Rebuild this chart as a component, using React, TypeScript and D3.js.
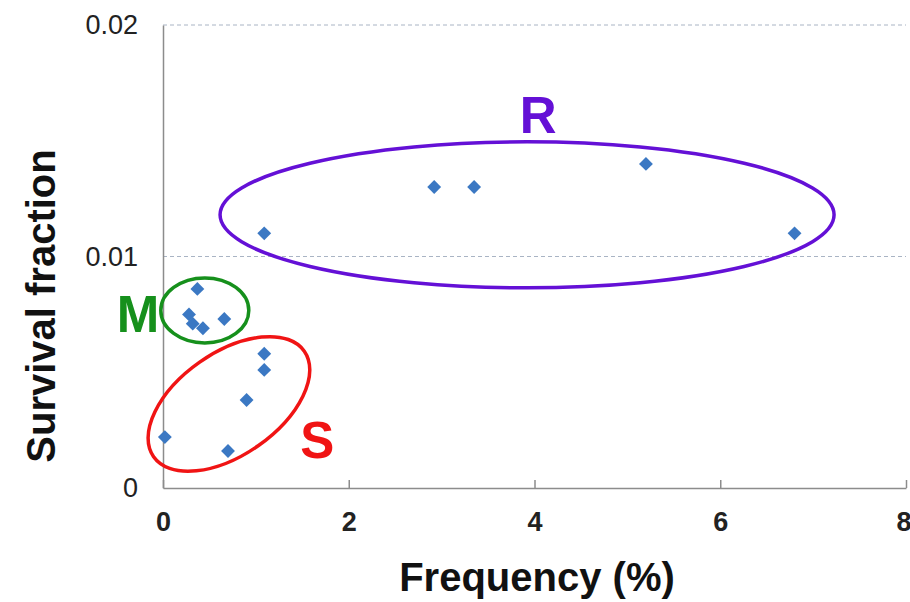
import * as d3 from 'd3';
import { useEffect, useRef } from 'react';

// Frequency (%) vs survival fraction, one point per isolate
const freqValues = [0.02, 0.7, 0.9, 1.09, 1.09, 0.37, 0.28, 0.32, 0.43, 0.66, 1.09, 2.92, 3.35, 5.2, 6.8];
const survivalValues = [0.0022, 0.0016, 0.0038, 0.0051, 0.0058, 0.0086, 0.0075, 0.0071, 0.0069, 0.0073, 0.011, 0.013, 0.013, 0.014, 0.011];

const xTicks = [0, 2, 4, 6, 8];
const yTicks = [0, 0.01, 0.02];
const yTickLabels = ['0', '0.01', '0.02'];

// group annotations: label, colour, label position and ellipse (centre in data units)
const groupNames = ['R', 'M', 'S'];
const groupColors = ['#6410d6', '#16901c', '#f01414'];
const groupLabelX = [4.04, -0.27, 1.66];
const groupLabelY = [0.01533, 0.00674, 0.0013];
const ellipseCx = [3.92, 0.45, 0.71];
const ellipseCy = [0.0118, 0.00767, 0.00363];
const ellipseRx = [307, 44, 92];
const ellipseRy = [73, 32.5, 51];
const ellipseAngle = [0, 0, -35];

const App: React.FC = () => {
  const ref = useRef<null | SVGSVGElement>(null);

  useEffect(() => {
    const width = 910;
    const height = 602;
    const margin = { top: 25, right: 4, bottom: 114, left: 163 };

    const svg = d3.select(ref.current);
    svg.selectAll('*').remove();
    svg.attr('width', width).attr('height', height);

    const x = d3.scaleLinear().domain([0, 8]).range([margin.left, width - margin.right]);
    const y = d3.scaleLinear().domain([0, 0.02]).range([height - margin.bottom, margin.top]);

    // dashed gridlines
    svg
      .append('g')
      .selectAll('line')
      .data(yTicks.slice(1))
      .join('line')
      .attr('x1', x(0))
      .attr('x2', x(8))
      .attr('y1', (d) => y(d))
      .attr('y2', (d) => y(d))
      .attr('stroke', '#a9b4c4')
      .attr('stroke-width', 1)
      .attr('stroke-dasharray', '4,3');

    // y axis
    const yAxis = svg
      .append('g')
      .attr('transform', `translate(${x(0)},0)`)
      .call(
        d3
          .axisLeft(y)
          .tickValues(yTicks)
          .tickSize(0)
          .tickPadding(25)
          .tickFormat((d, i) => yTickLabels[i])
      );
    yAxis.select('.domain').attr('stroke', '#8c8c8c').attr('stroke-width', 1.5);
    yAxis
      .selectAll('text')
      .attr('font-family', 'Liberation Sans, Arial, sans-serif')
      .attr('font-size', 27)
      .attr('fill', '#222');

    // x axis, ticks pointing inward
    const xAxis = svg
      .append('g')
      .attr('transform', `translate(0,${y(0)})`)
      .call(d3.axisBottom(x).tickValues(xTicks).tickSizeInner(-8).tickSizeOuter(0).tickPadding(24));
    xAxis.select('.domain').attr('stroke', '#8c8c8c').attr('stroke-width', 1.5);
    xAxis.selectAll('line').attr('stroke', '#8c8c8c').attr('stroke-width', 1.5);
    xAxis
      .selectAll('text')
      .attr('font-family', 'Liberation Sans, Arial, sans-serif')
      .attr('font-weight', 'bold')
      .attr('font-size', 27)
      .attr('fill', '#222')
      .attr('text-anchor', (d) => (d === 8 ? 'end' : 'middle'))
      .attr('dx', (d) => (d === 8 ? 5 : 0));

    // axis titles
    svg
      .append('text')
      .attr('x', 537)
      .attr('y', 591)
      .attr('text-anchor', 'middle')
      .attr('font-family', 'Liberation Sans, Arial, sans-serif')
      .attr('font-weight', 'bold')
      .attr('font-size', 40)
      .attr('fill', '#111')
      .text('Frequency (%)');

    svg
      .append('text')
      .attr('transform', `translate(55,306) rotate(-90)`)
      .attr('text-anchor', 'middle')
      .attr('font-family', 'Liberation Sans, Arial, sans-serif')
      .attr('font-weight', 'bold')
      .attr('font-size', 40)
      .attr('fill', '#111')
      .text('Survival fraction');

    // group ellipses
    svg
      .append('g')
      .selectAll('ellipse')
      .data(groupNames)
      .join('ellipse')
      .attr('transform', (d, i) => `translate(${x(ellipseCx[i])},${y(ellipseCy[i])}) rotate(${ellipseAngle[i]})`)
      .attr('rx', (d, i) => ellipseRx[i])
      .attr('ry', (d, i) => ellipseRy[i])
      .attr('fill', 'none')
      .attr('stroke', (d, i) => groupColors[i])
      .attr('stroke-width', 3.5);

    // group labels
    svg
      .append('g')
      .selectAll('text')
      .data(groupNames)
      .join('text')
      .attr('x', (d, i) => x(groupLabelX[i]))
      .attr('y', (d, i) => y(groupLabelY[i]))
      .attr('text-anchor', 'middle')
      .attr('font-family', 'Liberation Sans, Arial, sans-serif')
      .attr('font-weight', 'bold')
      .attr('font-size', 51)
      .attr('fill', (d, i) => groupColors[i])
      .text((d) => d);

    // diamond markers
    const diamond = d3.symbol().type(d3.symbolSquare).size(96);
    svg
      .append('g')
      .selectAll('path')
      .data(freqValues)
      .join('path')
      .attr('transform', (d, i) => `translate(${x(d)},${y(survivalValues[i])}) rotate(45)`)
      .attr('d', diamond)
      .attr('fill', '#3b78c3');
  }, []);

  return (
    <div style={{ position: 'absolute', left: 0, top: 0, background: '#fff' }}>
      <svg ref={ref} />
    </div>
  );
};

export default App;
